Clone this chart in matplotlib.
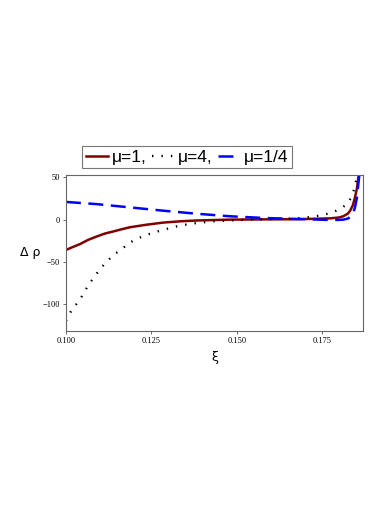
import matplotlib
matplotlib.use("Agg")
import matplotlib.pyplot as plt

# values
xi_black = [0.1000, 0.1017, 0.1041, 0.1065, 0.1090, 0.1114, 0.1139, 0.1163, 0.1188,
            0.1212, 0.1236, 0.1260, 0.1285, 0.1334, 0.1383, 0.1432, 0.1480, 0.1529,
            0.1578, 0.1627, 0.1676, 0.1725, 0.1773, 0.1800, 0.1822, 0.1835, 0.1842,
            0.1852, 0.1857]
rho_black = [-120, -107, -95, -78, -64, -52, -42, -35, -27,
             -22, -18, -15, -12, -7, -4, -2, -1, 0,
             0.4, 1, 1.5, 3.5, 7.5, 12, 18, 26, 34,
             50, 56]

xi_red = [0.1000, 0.1017, 0.1041, 0.1065, 0.1090, 0.1114, 0.1139, 0.1163, 0.1188,
          0.1212, 0.1236, 0.1285, 0.1334, 0.1383, 0.1432, 0.1480, 0.1578, 0.1676,
          0.1725, 0.1773, 0.1800, 0.1812, 0.1825, 0.1832, 0.1840, 0.1846, 0.1852,
          0.1856, 0.1860]
rho_red = [-36, -33, -29, -24, -20, -16.5, -14, -11.4, -9,
           -7.5, -6, -3.5, -2, -1, -0.5, 0, 0.3, 0.5,
           1, 1.5, 2.6, 4, 7, 10.5, 17, 26, 37,
           50, 56]

xi_blue = [0.1000, 0.1090, 0.1188, 0.1285, 0.1383, 0.1480, 0.1578, 0.1676, 0.1773,
           0.1800, 0.1812, 0.1825, 0.1832, 0.1840, 0.1846, 0.1852, 0.1856, 0.1859,
           0.1862]
rho_blue = [21, 18.4, 14.5, 10.6, 7, 4, 2, 0.8, -0.4,
            -0.3, 0, 1.2, 3, 7, 14, 26, 42, 53,
            58]

x_ticks = [0.100, 0.125, 0.150, 0.175]
x_labels = ["0.100", "0.125", "0.150", "0.175"]
y_ticks = [50, 0, -50, -100]
y_labels = ["50", "0", "\u221250", "\u2212100"]

fig = plt.figure(figsize=(3.9, 5.05), dpi=100)
ax = fig.add_axes([0.169, 0.3446, 0.762, 0.309])

ax.plot(xi_red, rho_red, color="#800000", lw=1.8, label="\u03bc=1,")
ax.plot(xi_black, rho_black, color="black", lw=1.7, linestyle=(0, (0.6, 3.4)),
        label="\u03bc=4,")
ax.plot(xi_blue, rho_blue, color="#0000ff", lw=1.8, linestyle=(0, (6, 3)),
        label="\u03bc=1/4")

ax.set_xlim(0.1, 0.187)
ax.set_ylim(-132, 53)
ax.set_xticks(x_ticks)
ax.set_xticklabels(x_labels, family="Liberation Serif", fontsize=6)
ax.set_yticks(y_ticks)
ax.set_yticklabels(y_labels, family="Liberation Serif", fontsize=6)
ax.tick_params(length=2.5, width=0.6, colors="#555555", labelcolor="black", pad=1.5)
for s in ax.spines.values():
    s.set_color("#666666")
    s.set_linewidth(0.8)

ax.set_xlabel("\u03be", family="DejaVu Sans", fontsize=9, labelpad=5)
ax.set_ylabel("\u0394 \u03c1", family="DejaVu Sans", fontsize=9, rotation=0, labelpad=9,
              va="center")

leg = ax.legend(loc="lower center", bbox_to_anchor=(0.407, 1.02), ncol=3,
                prop={"family": "Liberation Sans", "size": 12.5}, frameon=True,
                fancybox=False, edgecolor="#555555", handlelength=1.3,
                handletextpad=0.2, columnspacing=0.3, borderpad=0.2,
                borderaxespad=0.2)
leg.get_frame().set_linewidth(0.8)

fig.savefig("out.png", dpi=100)
